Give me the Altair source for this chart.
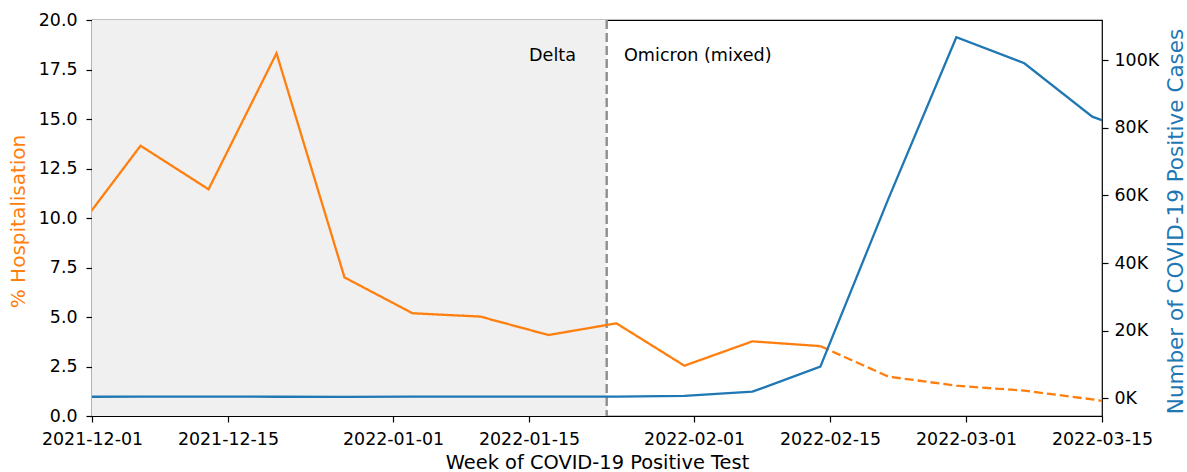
import altair as alt
import pandas as pd

# Weekly series (week starting Monday)
weeks = [
    "2021-11-29", "2021-12-06", "2021-12-13", "2021-12-20", "2021-12-27",
    "2022-01-03", "2022-01-10", "2022-01-17", "2022-01-24", "2022-01-31",
    "2022-02-07", "2022-02-14", "2022-02-21", "2022-02-28", "2022-03-07",
    "2022-03-14", "2022-03-21",
]
hosp_pct = [
    9.1, 13.65, 11.45, 18.32, 7.0,
    5.19, 5.02, 4.09, 4.68, 2.54,
    3.77, 3.53, 1.99, 1.53, 1.28,
    0.84, 0.31,
]
cases = [
    450, 480, 470, 460, 440,
    470, 480, 490, 520, 700,
    1950, 9350, 59000, 106800, 99100,
    83300, 76000,
]
# weeks from this one on are still provisional (drawn dashed)
first_provisional_week = "2022-02-14"

variant_switch = "2022-01-23"
variant_labels = ["Delta", "Omicron (mixed)"]

x_start, x_end = "2021-12-01", "2022-03-15"
x_ticks = ["2021-12-01", "2021-12-15", "2022-01-01", "2022-01-15",
           "2022-02-01", "2022-02-15", "2022-03-01", "2022-03-15"]
pct_domain = [0, 20]
pct_ticks = [0, 2.5, 5, 7.5, 10, 12.5, 15, 17.5, 20]
case_domain = [-5240, 111900]
case_ticks = [0, 20000, 40000, 60000, 80000, 100000]

ORANGE = "#ff7f0e"
BLUE = "#1f77b4"
FONT = "DejaVu Sans"
W, H = 1010, 396


def utc(day):
    y, m, d = (int(p) for p in day.split("-"))
    return alt.DateTime(year=y, month=m, date=d, utc=True)


def x_enc():
    return alt.X(
        "week:T",
        scale=alt.Scale(type="utc", domain=[utc(x_start), utc(x_end)]),
        axis=alt.Axis(
            title="Week of COVID-19 Positive Test",
            values=[utc(t) for t in x_ticks],
            format="%Y-%m-%d",
            labelFlush=False,
            labelOverlap=False,
            labelPadding=8.5,
            titleFontSize=19.4,
            titleBaseline="alphabetic",
            titleY=52,
        ),
    )


# Orange series split into observed / provisional pieces sharing the join week
k = weeks.index(first_provisional_week)
hosp_df = pd.concat([
    pd.DataFrame({"week": weeks[:k + 1], "pct": hosp_pct[:k + 1], "seg": "observed"}),
    pd.DataFrame({"week": weeks[k:], "pct": hosp_pct[k:], "seg": "provisional"}),
], ignore_index=True)
cases_df = pd.DataFrame({"week": weeks, "cases": cases})

shade_df = pd.DataFrame({"week": [x_start], "week_end": [variant_switch]})
switch_df = pd.DataFrame({"week": [variant_switch]})
before_df = pd.DataFrame({"week": [variant_switch], "label": [variant_labels[0]]})
after_df = pd.DataFrame({"week": [variant_switch], "label": [variant_labels[1]]})

shade = alt.Chart(shade_df).mark_rect(color="#f0f0f0").encode(
    x=x_enc(), x2="week_end:T"
)

switch_rule = alt.Chart(switch_df).mark_rule(
    color="#8f8f8f", strokeWidth=2.4, strokeDash=[9, 4]
).encode(x=x_enc())

label_style = dict(font=FONT, fontSize=17.6, color="black", baseline="alphabetic")
before_text = alt.Chart(before_df).mark_text(align="right", dx=-30.7, **label_style).encode(
    x=x_enc(), y=alt.value(40.7), text="label:N"
)
after_text = alt.Chart(after_df).mark_text(align="left", dx=17.3, **label_style).encode(
    x=x_enc(), y=alt.value(40.7), text="label:N"
)

hosp_line = alt.Chart(hosp_df).mark_line(color=ORANGE, strokeWidth=2.3, clip=True).encode(
    x=x_enc(),
    y=alt.Y(
        "pct:Q",
        scale=alt.Scale(domain=pct_domain, nice=False, zero=False),
        axis=alt.Axis(
            orient="left",
            title="% Hospitalisation",
            titleColor=ORANGE,
            titleFontSize=20,
            titleAngle=270,
            titleBaseline="alphabetic",
            titleX=-68,
            titleY=201,
            values=pct_ticks,
            format=".1f",
            labelPadding=9,
        ),
    ),
    strokeDash=alt.StrokeDash(
        "seg:N",
        scale=alt.Scale(domain=["observed", "provisional"], range=[[1, 0], [9, 4]]),
        legend=None,
    ),
)

cases_line = alt.Chart(cases_df).mark_line(color=BLUE, strokeWidth=2.3, clip=True).encode(
    x=x_enc(),
    y=alt.Y(
        "cases:Q",
        scale=alt.Scale(domain=case_domain, nice=False, zero=False),
        axis=alt.Axis(
            orient="right",
            title="Number of COVID-19 Positive Cases",
            titleColor=BLUE,
            titleFontSize=21.5,
            titleAngle=270,
            titleBaseline="alphabetic",
            titleX=80.5,
            titleY=201,
            values=case_ticks,
            labelExpr="format(datum.value / 1000, 'd') + 'K'",
            labelPadding=6,
        ),
    ),
)

chart = (
    alt.layer(shade, switch_rule, before_text, after_text, hosp_line, cases_line)
    .resolve_scale(y="independent")
    .properties(
        width=W,
        height=H,
        padding={"left": 92, "top": 20, "right": 85, "bottom": 56},
        autosize=alt.AutoSizeParams(type="none"),
        background="white",
    )
    .configure_view(stroke="black", strokeWidth=1.2)
    .configure_axis(
        grid=False,
        domain=False,
        labelFont=FONT,
        labelFontSize=17.4,
        labelColor="black",
        tickColor="black",
        tickSize=6,
        tickWidth=1.2,
        titleFont=FONT,
        titleFontWeight="normal",
        titleColor="black",
    )
)

chart.save("out.html", embed_options={"renderer": "svg", "actions": False})
